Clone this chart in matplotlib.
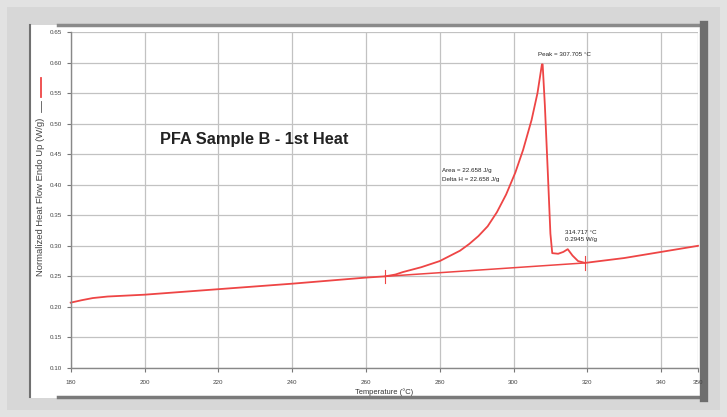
#!/usr/bin/env python3
"""
DSC thermogram - PFA Sample B, 1st heat
"""

import matplotlib
matplotlib.use("Agg")
import matplotlib.pyplot as plt
from matplotlib.patches import Rectangle
from matplotlib.lines import Line2D

# heat flow curve (temperature in C, normalized heat flow in W/g)
temperature = [180.0, 183.0, 186.0, 190.0, 195.0, 200.0, 210.0, 220.0, 230.0,
               240.0, 250.0, 260.0, 265.2, 268.0, 270.0, 275.0, 280.0, 285.5,
               288.0, 290.5, 293.0, 295.5, 298.0, 300.5, 302.6, 304.9, 306.5,
               307.7, 307.9, 308.5, 309.3, 310.0, 310.5, 312.1, 313.5, 314.7,
               316.0, 317.5, 319.4, 322.0, 326.0, 330.0, 335.0, 340.0, 345.0,
               350.0]
heat_flow = [0.207, 0.211, 0.2145, 0.217, 0.2185, 0.220, 0.2245, 0.229, 0.2335,
             0.238, 0.243, 0.248, 0.250, 0.253, 0.257, 0.265, 0.275, 0.292,
             0.303, 0.316, 0.332, 0.355, 0.384, 0.420, 0.457, 0.506, 0.550,
             0.597, 0.597, 0.530, 0.420, 0.320, 0.288, 0.287, 0.290, 0.2945,
             0.284, 0.275, 0.272, 0.274, 0.277, 0.280, 0.285, 0.290, 0.295,
             0.300]

# integration baseline end points
baseline_temp = [265.2, 319.4]
baseline_flow = [0.250, 0.272]

# analysis results
peak_temp = 307.705
peak_flow = 0.597
area = 22.658
delta_h = 22.658
point_temp = 314.717
point_flow = 0.2945

x_ticks = [180, 200, 220, 240, 260, 280, 300, 320, 340, 350]
y_ticks = [0.10, 0.15, 0.20, 0.25, 0.30, 0.35, 0.40, 0.45, 0.50, 0.55, 0.60, 0.65]

W, H = 727, 417
RED = '#ee4545'
plt.rcParams['font.family'] = ['Liberation Sans', 'DejaVu Sans']

fig = plt.figure(figsize=(W / 100, H / 100), dpi=100, facecolor='#e2e2e2')


def px(x, y):
    # pixel (from top-left) -> figure fraction
    return x / W, 1 - y / H


# window frame
fig.patches.append(Rectangle(px(7, 410), 713 / W, 403 / H, transform=fig.transFigure,
                             facecolor='#d7d7d7', edgecolor='none', zorder=-3))
fig.patches.append(Rectangle(px(30, 398), 673 / W, 373 / H, transform=fig.transFigure,
                             facecolor='white', edgecolor='none', zorder=-2))
for (x0, y0, x1, y1, c, lw) in [(30, 25, 30, 397, '#707070', 1.5),
                                (58, 25, 703, 25, '#8a8a8a', 2.5),
                                (58, 397, 705, 397, '#7a7a7a', 2.5),
                                (704, 25, 704, 398, '#6e6e6e', 6)]:
    fig.add_artist(Line2D([x0 / W, x1 / W], [1 - y0 / H, 1 - y1 / H],
                          transform=fig.transFigure, color=c, lw=lw, zorder=-1))

ax = fig.add_axes([70.7 / W, 1 - 368 / H, (698 - 70.7) / W, (368 - 32) / H])
ax.set_zorder(5)
ax.set_facecolor('white')
ax.set_xlim(180, 350)
ax.set_ylim(0.10, 0.65)
ax.set_xticks(x_ticks)
ax.set_yticks(y_ticks)
ax.set_xticklabels([str(t) for t in x_ticks], fontsize=4.5, color='#444444')
ax.set_yticklabels([f'{t:.2f}' for t in y_ticks], fontsize=4.5, color='#444444')
ax.tick_params(length=3, width=0.8, color='#777777', pad=3)
ax.tick_params(axis='x', pad=6)
ax.grid(True, color='#c2c2c2', lw=0.9)
ax.set_axisbelow(True)
for side in ['top', 'right']:
    ax.spines[side].set_visible(False)
for side in ['left', 'bottom']:
    ax.spines[side].set_color('#888888')
    ax.spines[side].set_linewidth(1.0)

ax.plot(temperature, heat_flow, color=RED, lw=1.3, solid_joinstyle='round', clip_on=False)
ax.plot(baseline_temp, baseline_flow, color=RED, lw=1.1)
for t, f in zip(baseline_temp, baseline_flow):
    ax.plot([t, t], [f - 0.011, f + 0.011], color=RED, lw=0.8)

ax.text(peak_temp - 1.0, peak_flow + 0.012, f'Peak = {peak_temp:.3f} °C',
        fontsize=4.5, color='#222222', ha='left', va='bottom')
ax.text(280.6, 0.416, f'Area = {area:.3f} J/g\nDelta H = {delta_h:.3f} J/g',
        fontsize=4.5, color='#222222', ha='left', va='center', linespacing=1.9)
ax.text(point_temp - 0.8, point_flow + 0.012, f'{point_temp:.3f} °C\n{point_flow:.4f} W/g',
        fontsize=4.5, color='#222222', ha='left', va='bottom', linespacing=1.5)

ax.text(0.142, 0.679, 'PFA Sample B - 1st Heat', transform=ax.transAxes,
        fontsize=11.8, fontweight='bold', color='#222222', ha='left', va='center')

ax.set_xlabel('Temperature (°C)', fontsize=5.4, color='#333333', labelpad=2)

# y label with legend swatches
fig.text(41 / W, 1 - 197 / H, 'Normalized Heat Flow Endo Up (W/g)', rotation=90,
         fontsize=6.8, color='#444444', ha='center', va='center')
fig.add_artist(Line2D([41 / W, 41 / W], [1 - 78 / H, 1 - 97 / H], transform=fig.transFigure,
                      color=RED, lw=1.3))
fig.add_artist(Line2D([41 / W, 41 / W], [1 - 101 / H, 1 - 112 / H], transform=fig.transFigure,
                      color='#555555', lw=0.6))

fig.savefig('out.png', dpi=100, facecolor=fig.get_facecolor())
